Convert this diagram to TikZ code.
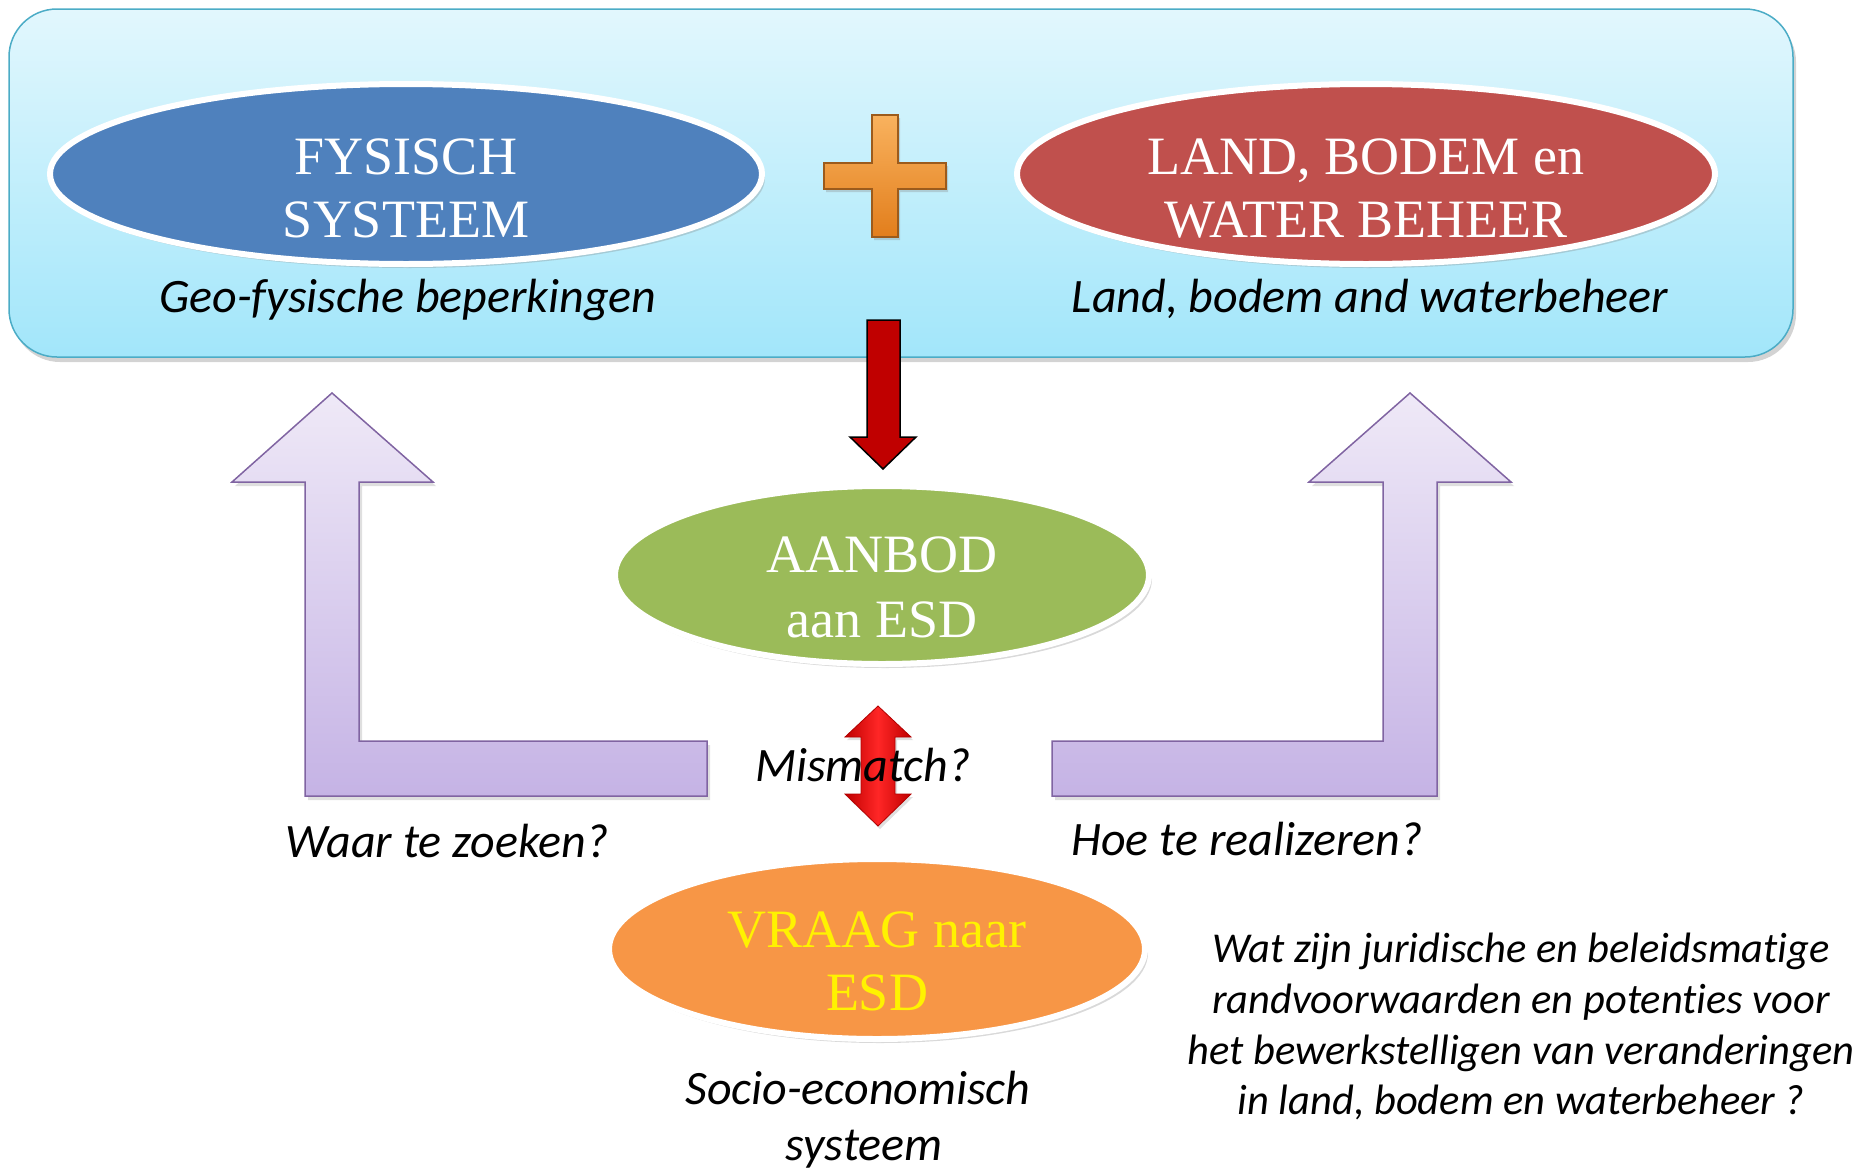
\documentclass[tikz,border=0pt]{standalone}
\usepackage{fontspec}
\setmainfont{Liberation Serif}
\newfontfamily\calib[Ligatures=NoCommon]{Carlito}
\usetikzlibrary{shadows,shapes.geometric}
\definecolor{boxtop}{HTML}{E2F7FD}
\definecolor{boxbot}{HTML}{A2E6FA}
\definecolor{boxline}{HTML}{4BACC6}
\definecolor{cblue}{HTML}{4F81BD}
\definecolor{cred}{HTML}{C0504D}
\definecolor{cgreen}{HTML}{9BBB59}
\definecolor{corange}{HTML}{F79646}
\definecolor{ptop}{HTML}{EFE9F7}
\definecolor{pbot}{HTML}{C5B3E5}
\definecolor{pline}{HTML}{8064A2}
\definecolor{darrow}{HTML}{C00000}
\definecolor{plustop}{HTML}{F9B25E}
\definecolor{plusbot}{HTML}{E27E1C}
\definecolor{plusline}{HTML}{9C5B1C}
\begin{document}
\begin{tikzpicture}[x=1pt,y=-1pt,
  oval/.style={ellipse, draw=white, line width=6pt, inner sep=0pt,
     drop shadow={shadow xshift=3pt, shadow yshift=-4pt, opacity=.3}},
  serif/.style={anchor=base, text=white, font=\fontsize{54}{63}\selectfont, inner sep=0pt},
  itxt/.style={anchor=base, font=\calib\itshape\fontsize{48}{57}\selectfont, inner sep=0pt},
  ismall/.style={anchor=base, font=\calib\itshape\fontsize{42.5}{50}\selectfont, inner sep=0pt},
  purple/.style={draw=pline, line width=1.5pt, top color=ptop, bottom color=pbot,
     drop shadow={shadow xshift=3pt, shadow yshift=-4pt, opacity=.25}}]
\useasboundingbox (0,0) rectangle (1866,1170);

% main box
\draw[draw=boxline, line width=1.5pt, rounded corners=48pt, top color=boxtop, bottom color=boxbot,
  drop shadow={shadow xshift=3pt, shadow yshift=-5pt, opacity=.35}] (9,9) rectangle (1793,357);

% ellipses
\node[oval, fill=cblue, minimum width=712pt, minimum height=180pt] (fys) at (406,174) {};
\node[oval, fill=cred, minimum width=698pt, minimum height=180pt] (land) at (1366,174) {};
\node[oval, fill=cgreen, minimum width=534pt, minimum height=178pt] (aanbod) at (882,575) {};
\node[oval, fill=corange, minimum width=536pt, minimum height=180pt] (vraag) at (877,949) {};

\node[serif] (t1) at (406,174) {FYSISCH};
\node[serif] (t2) at (406,237) {SYSTEEM};
\node[serif] (t3) at (1366,174) {LAND, BODEM en};
\node[serif] (t4) at (1366,237) {WATER BEHEER};
\node[serif] (t5) at (882,572) {AANBOD};
\node[serif] (t6) at (882,637) {aan ESD};
\node[serif, text=yellow] (t7) at (877,947) {VRAAG naar};
\node[serif, text=yellow] (t8) at (877,1010) {ESD};

% plus sign
\draw[draw=plusline, line width=1.5pt, top color=plustop, bottom color=plusbot,
  drop shadow={shadow xshift=2pt, shadow yshift=-3pt, opacity=.3}]
  (872,115) -- (898,115) -- (898,163) -- (946,163) -- (946,189) -- (898,189) -- (898,237)
  -- (872,237) -- (872,189) -- (824,189) -- (824,163) -- (872,163) -- cycle;

% red down arrow
\draw[draw=black, line width=1.5pt, fill=darrow]
  (867,320) -- (900,320) -- (900,437) -- (916,437) -- (883,469) -- (850,437) -- (867,437) -- cycle;

% purple L arrows
\draw[purple] (332,393) -- (433,482) -- (359,482) -- (359,741) -- (707,741) -- (707,796)
  -- (305,796) -- (305,482) -- (232,482) -- cycle;
\draw[purple] (1410,393) -- (1511,482) -- (1437,482) -- (1437,796) -- (1052,796) -- (1052,741)
  -- (1383,741) -- (1383,482) -- (1309,482) -- cycle;

% double arrow
\draw[draw=red!70!black, line width=0.8pt, left color=red!75!black, right color=red!75!black, middle color=red!85!white,
  drop shadow={shadow xshift=2pt, shadow yshift=-3pt, opacity=.25}]
  (878,706) -- (911,737) -- (895,737) -- (895,794) -- (911,794) -- (878,826) -- (845,794)
  -- (861,794) -- (861,737) -- (845,737) -- cycle;

% italic texts
\node[itxt] (g1) at (408,312) {Geo-fysische beperkingen};
\node[itxt] (g2) at (1370,312) {Land, bodem and waterbeheer};
\node[itxt] (g3) at (863,781) {Mismatch?};
\node[itxt] (g4) at (447,857) {Waar te zoeken?};
\node[itxt] (g5) at (1247,855) {Hoe te realizeren?};
\node[itxt] (g6) at (858,1104) {Socio-economisch};
\node[itxt] (g7) at (864,1160) {systeem};
\node[ismall] (r1) at (1521,962) {Wat zijn juridische en beleidsmatige};
\node[ismall] (r2) at (1521,1013) {randvoorwaarden en potenties voor};
\node[ismall] (r3) at (1521,1064) {het bewerkstelligen van veranderingen};
\node[ismall] (r4) at (1521,1114) {in land, bodem en waterbeheer ?};
\end{tikzpicture}
\end{document}
